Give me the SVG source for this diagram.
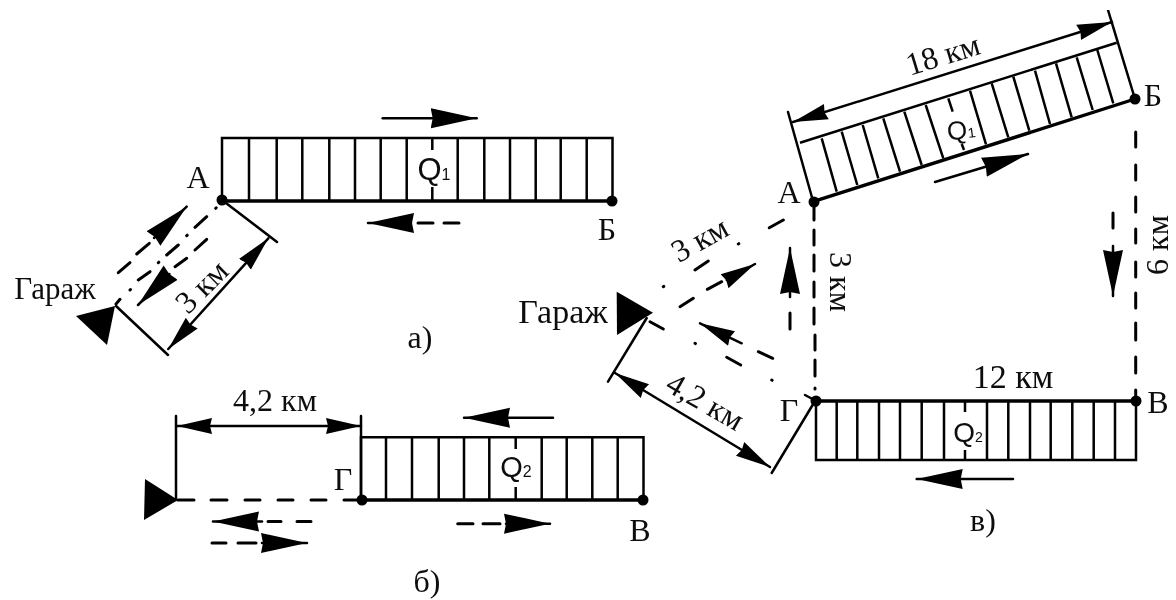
<svg xmlns="http://www.w3.org/2000/svg" width="1176" height="600" viewBox="0 0 1176 600">
<style>
.l{stroke:#000;stroke-width:2.5;fill:none;stroke-linecap:round}
.h{stroke:#000;stroke-width:2.5;fill:none}
.b{stroke:#000;stroke-width:3.4;fill:none;stroke-linecap:round}
.d{stroke:#000;stroke-width:3;fill:none;stroke-linecap:round}
.a{marker-end:url(#big)}
.m{marker-start:url(#dim);marker-end:url(#dim)}
.e{marker-end:url(#dim)}
.tri,.dot{fill:#000}
text{font-family:"Liberation Serif","Times New Roman",serif;fill:#111;text-anchor:middle;font-size:32px}
.g{font-size:34px}
.q{font-family:"Liberation Sans",Arial,sans-serif;font-size:29px}
.s{font-size:16px}
</style>
<defs>
<filter id="scan" x="0" y="0" width="100%" height="100%"><feGaussianBlur stdDeviation="0.45"/></filter>
<marker id="big" markerUnits="userSpaceOnUse" markerWidth="50" markerHeight="24" refX="46" refY="12" orient="auto-start-reverse"><path d="M46 12L0 2L2 12L0 22Z" fill="#000"/></marker>
<marker id="dim" markerUnits="userSpaceOnUse" markerWidth="38" markerHeight="20" refX="35" refY="10" orient="auto-start-reverse"><path d="M35 10L0 2L2 10L0 18Z" fill="#000"/></marker>
</defs>
<g filter="url(#scan)">
<g id="panel-a-road">
<path class="h" d="M222 200V138H612.500V200"/>
<path class="b" d="M222 201H612"/>
<path class="h" d="M249 138V200M276.700 138V200M302.300 138V200M329.300 138V200M355 138V200M380.700 138V200M406.700 138V200M432.300 138V150M432.300 187V200M457.700 138V200M484.300 138V200M510 138V200M535.700 138V200M560.700 138V200M586.700 138V200"/>
<circle class="dot" cx="222" cy="200" r="5.500"/><circle class="dot" cx="612" cy="201" r="5.500"/>
<text class="q" x="434" y="180" style="font-size:31px">Q<tspan class="s">1</tspan></text>
<text x="198" y="188">А</text><text x="607" y="240">Б</text>
</g>
<g id="panel-a-garage">
<polygon class="tri" points="76,316 115,306 107,345"/>
<text x="55" y="299" style="font-size:31px">Гараж</text>
<text transform="translate(202 287) rotate(-45)" y="10">3 км</text>
<text x="420" y="348">а)</text>
</g>
<g id="panel-a-connectors">
<path class="l" d="M222 200L277 242M116 306L168 355"/>
<line class="l m" x1="168.300" y1="349" x2="268.300" y2="238.300"/>
<line class="l a" x1="382.700" y1="118.300" x2="476.700" y2="118.300"/>
<line class="l a" x1="411" y1="223" x2="368" y2="223"/>
<path class="d" d="M418 223H433M444 223H459"/>
<path class="d" d="M118.300 272.700L130 262.700M136.700 254L149.300 243.300"/>
<line class="l a" x1="154" y1="238" x2="186.700" y2="206.700"/>
<line class="l a" x1="169.300" y1="274" x2="138" y2="305"/>
<path class="d" d="M175 266.700L186.700 258.300M195 250L206.700 239.300"/>
<path class="d" d="M116 304L120 299.300M130 290L130.500 289.500M138.300 280L150 271.700M158.300 262.700L158.800 262.200M166.700 255L178.300 245M186.700 235.700L187.200 235.200M195 227.300L206.700 216.700M215.700 208.300L216.200 207.800"/>
</g>

<g id="panel-b-road">
<path class="h" d="M361 500V437.300H643.500V500"/>
<path class="b" d="M361 500H643"/>
<path class="h" d="M386 437V500M412 437V500M438.700 437V500M464 437V500M489.300 437V500M515.700 437V449M515.700 487V500M541.700 437V500M566.700 437V500M592.300 437V500M617.700 437V500"/>
<circle class="dot" cx="362" cy="500" r="5.500"/><circle class="dot" cx="643" cy="500" r="5.500"/>
<text class="q" x="516" y="477">Q<tspan class="s">2</tspan></text>
<text x="343" y="490">Г</text><text x="640" y="541">В</text>
</g>
<g id="panel-b-garage">
<polygon class="tri" points="145,479 178,500 144,520"/>
<text x="275" y="411">4,2 км</text>
<text x="427" y="592">б)</text>
</g>
<g id="panel-b-connectors">
<path class="l" d="M176 416V500M361 416V498"/>
<line class="l m" x1="177" y1="426" x2="361" y2="426"/>
<path class="d" d="M178 500H194M211 500H227M245 500H260M278 500H293M311 500H326M344 500H360"/>
<line class="l a" x1="553" y1="417.700" x2="464" y2="417.700"/>
<line class="l a" x1="506" y1="523.700" x2="550" y2="523.700"/>
<path class="d" d="M457.700 523.700H473M483 523.700H500"/>
<line class="l a" x1="262" y1="521.500" x2="213" y2="521.500"/>
<path class="d" d="M268 521.500H281M297 521.500H311"/>
<path class="d" d="M212 543H226M238 543H256"/>
<line class="l a" x1="262" y1="543" x2="307" y2="543"/>
</g>

<g id="panel-c-q1">
<path class="h" d="M800 142.700L1116.700 42.700"/>
<path class="b" d="M813 201.700L1135 99"/>
<path class="h" d="M821.700 138.300L836.700 191.700M841.700 131.700L857.300 185M862.700 125L878.300 178.300M883.300 118.300L900 171.700M904.300 111.700L921.700 165M925.700 105L943.300 158.300M948.300 98.300L952.700 111.700M961.700 144L964 150M970 90.700L986 144.300M991.700 83.300L1008.300 137.300M1013.300 76.700L1029.300 130.700M1035 70.700L1050 124M1056 63.300L1071.700 117.300M1076.700 57.300L1092.700 110M1097.300 50L1113.300 103.300"/>
<circle class="dot" cx="814" cy="202" r="5.500"/><circle class="dot" cx="1135" cy="99" r="5.500"/>
<text class="q" transform="translate(961 130) rotate(-8)" y="9" style="font-size:26px">Q<tspan class="s" style="font-size:14px">1</tspan></text>
<text x="789" y="203">А</text><text x="1153" y="106">Б</text>
<text transform="translate(943 55) rotate(-17)" y="10">18 км</text>
</g>
<g id="panel-c-q2">
<path class="h" d="M816 401V460H1136V401"/>
<path class="b" d="M816 401H1136"/>
<path class="h" d="M836.700 401V460M857.300 401V460M879 401V460M900 401V460M921.700 401V460M944 401V460M965 401V412M965 450V460M987 401V460M1008.300 401V460M1030 401V460M1050.700 401V460M1072.300 401V460M1093.700 401V460M1115 401V460"/>
<circle class="dot" cx="816" cy="401" r="5.500"/><circle class="dot" cx="1136" cy="401" r="5.500"/>
<text class="q" x="968" y="442" style="font-size:28px">Q<tspan class="s" style="font-size:14px">2</tspan></text>
<text x="789" y="421">Г</text><text x="1158" y="413">В</text>
<text class="g" x="1013" y="388">12 км</text>
<text x="983" y="531">в)</text>
</g>
<g id="panel-c-garage">
<polygon class="tri" points="616.700,291.700 653,312.700 617,335"/>
<text class="g" x="563" y="323">Гараж</text>
<text transform="translate(700 240) rotate(-29)" y="10">3 км</text>
<text transform="translate(705 402) rotate(30)" y="10">4,2 км</text>
<text transform="translate(840 282) rotate(90)" y="10">3 км</text>
<text transform="translate(1158 245) rotate(-90)" y="10">6 км</text>
</g>
<g id="panel-c-connectors">
<path class="l" d="M788 112L813 201M1108 10L1135 99M646.700 318L608 381.700M815 401L771.700 473M805 395L818 402"/>
<line class="l m" x1="793" y1="122" x2="1112" y2="22"/>
<line class="l m" x1="615" y1="373" x2="770" y2="467"/>
<line class="l a" x1="935" y1="182" x2="1028" y2="154"/>
<line class="l a" x1="1013" y1="479" x2="916.700" y2="479"/>
<path class="d" d="M1135.700 132V147M1135.700 165V180M1135.700 197V212M1135.700 229V243M1135.700 262V277M1135.700 293V308M1135.700 323V340M1135.700 357V373M1135.700 390V400"/>
<path class="d" d="M814 200V220M814 230V245M814 255V271M814 282V297M814 308V324M815 335V350M815 360V376M815 388V389"/>
<path class="d" d="M1113 213V228"/>
<line class="l a" x1="1113" y1="246" x2="1113" y2="296"/>
<line class="l a" x1="790" y1="297" x2="790" y2="248"/>
<path class="d" d="M790 313V329"/>
<path class="d" d="M680 306.700L693.300 298.300M707.300 289.300L721.700 281.700"/>
<line class="l e" x1="726.700" y1="280" x2="755" y2="264"/>
<path class="d" d="M663.300 286.700L663.800 286.400M695 270L708.300 261M738.300 244L738.800 243.700M769.300 227.700L783.300 220"/>
<path class="d" d="M650 321.700L663.300 329M695 343.300L695.500 343.600M726.700 357.300L740.700 365M771.700 380L772.200 380.300"/>
<line class="l e" x1="741.700" y1="343.300" x2="700" y2="323.300"/>
<path class="d" d="M758.300 351.700L772.700 358.300"/>
</g>
</g>
</svg>
